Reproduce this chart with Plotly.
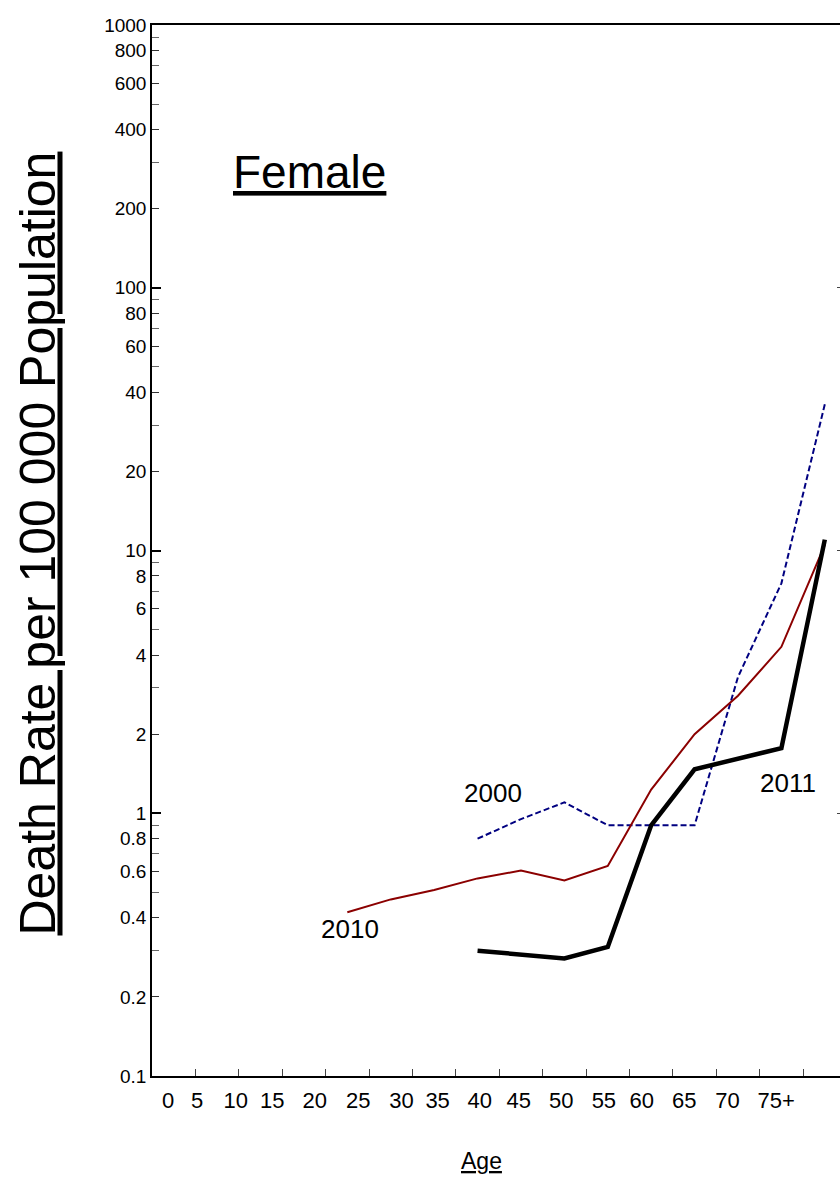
import plotly.graph_objects as go

# ---- data ----
ages = ["0", "5", "10", "15", "20", "25", "30", "35", "40", "45",
        "50", "55", "60", "65", "70", "75+"]

ages_2000 = ["35", "40", "45", "50", "55", "60", "65", "70", "75+"]
rate_2000 = [0.80, 0.95, 1.10, 0.90, 0.90, 0.90, 3.3, 7.5, 36.0]

ages_2010 = ["20", "25", "30", "35", "40", "45", "50", "55", "60", "65", "70", "75+"]
rate_2010 = [0.42, 0.47, 0.51, 0.565, 0.605, 0.555, 0.63, 1.23, 2.0, 2.8, 4.3, 10.5]

ages_2011 = ["35", "40", "45", "50", "55", "60", "65", "70", "75+"]
rate_2011 = [0.30, 0.29, 0.28, 0.31, 0.90, 1.47, 1.61, 1.77, 11.0]

# printed x labels are offset from the category centres in the original
age_label_pos = [-0.13, 0.54, 1.43, 2.27, 3.25, 4.25, 5.25, 6.08, 7.05, 7.95,
                 8.93, 9.91, 10.78, 11.76, 12.76, 13.88]

y_labeled = [0.1, 0.2, 0.4, 0.6, 0.8, 1, 2, 4, 6, 8, 10, 20, 40, 60, 80,
             100, 200, 400, 600, 800, 1000]
y_labels = ["0.1", "0.2", "0.4", "0.6", "0.8", "1", "2", "4", "6", "8", "10",
            "20", "40", "60", "80", "100", "200", "400", "600", "800", "1000"]
y_minor = [0.3, 0.5, 0.7, 0.9, 3, 5, 7, 9, 30, 50, 70, 90, 300, 500, 700, 900]
y_decades = [0.1, 1, 10, 100, 1000]

FONT = "Arial, Liberation Sans, sans-serif"

W, H = 840, 1178
L, R, T, B = 152, 0, 25, 102
XR = [-0.5, 15.35]
YR = [-1, 3]

fig = go.Figure()
fig.add_trace(go.Scatter(x=ages_2000, y=rate_2000, mode="lines",
                         line=dict(color="#000080", width=2, dash="6px,3px"),
                         showlegend=False))
fig.add_trace(go.Scatter(x=ages_2010, y=rate_2010, mode="lines",
                         line=dict(color="#8B0000", width=2),
                         showlegend=False))
fig.add_trace(go.Scatter(x=ages_2011, y=rate_2011, mode="lines",
                         line=dict(color="black", width=4.5),
                         showlegend=False))
# empty traces so the overlay axes (labels / extra ticks) get drawn
for xa, ya in (("x2", "y"), ("x", "y2"), ("x", "y3")):
    fig.add_trace(go.Scatter(x=[None], y=[None], xaxis=xa, yaxis=ya,
                             mode="lines", showlegend=False, hoverinfo="skip"))


def px(xp):
    return (xp - L) / (W - L - R)


def py(yp):
    return (H - B - yp) / (H - B - T)


annotations = [
    dict(text="2000", x=px(492.5), y=py(792.5)),
    dict(text="2010", x=px(350), y=py(929)),
    dict(text="2011", x=px(788), y=py(782.5)),
]
for a in annotations:
    a.update(xref="paper", yref="paper", showarrow=False, xanchor="center",
             yanchor="middle", font=dict(family=FONT, size=26, color="black"))

annotations += [
    dict(text="<u>Female</u>", x=px(309), y=py(172), xref="paper", yref="paper",
         showarrow=False, xanchor="center", yanchor="middle",
         font=dict(family=FONT, size=46, color="black")),
    dict(text="<u>Age</u>", x=px(481.7), y=py(1161), xref="paper", yref="paper",
         showarrow=False, xanchor="center", yanchor="middle",
         font=dict(family=FONT, size=23, color="black")),
    dict(text="<u>Death Rate per 100 000 Population</u>", x=px(37), y=py(543.5),
         xref="paper", yref="paper", showarrow=False, xanchor="center",
         yanchor="middle", textangle=-90,
         font=dict(family=FONT, size=50, color="black")),
]

fig.update_layout(
    width=W, height=H,
    margin=dict(l=L, r=R, t=T, b=B, pad=0),
    plot_bgcolor="white", paper_bgcolor="white",
    font=dict(family=FONT, color="black"),
    showlegend=False,
    annotations=annotations,
    xaxis=dict(type="category", categoryorder="array", categoryarray=ages,
               range=XR, tickson="boundaries", ticks="inside", ticklen=7,
               tickwidth=1, tickcolor="#444", showticklabels=False,
               showline=True, linecolor="black", linewidth=1.5, mirror=True,
               showgrid=False, zeroline=False),
    xaxis2=dict(overlaying="x", anchor="y", side="bottom", type="linear", range=XR,
                tickmode="array", tickvals=age_label_pos, ticktext=ages,
                ticks="", showline=False, showgrid=False, zeroline=False,
                ticklabelstandoff=9, tickfont=dict(family=FONT, size=22)),
    yaxis=dict(type="log", range=YR, tickmode="array", tickvals=y_labeled,
               ticktext=y_labels, ticks="inside", ticklen=7, tickwidth=1,
               tickcolor="#333", showline=True, linecolor="black", linewidth=1.5,
               showgrid=False, zeroline=False,
               tickfont=dict(family=FONT, size=19),
               minor=dict(tickmode="array", tickvals=y_minor, ticks="inside",
                          ticklen=7, tickcolor="#666", tickwidth=1,
                          showgrid=False)),
    yaxis2=dict(overlaying="y", anchor="x", side="left", type="log", range=YR,
                tickmode="array", tickvals=y_decades, ticks="inside", ticklen=9,
                tickwidth=1.5, tickcolor="black", showticklabels=False,
                showline=False, showgrid=False, zeroline=False),
    yaxis3=dict(overlaying="y", anchor="x", side="right", type="log", range=YR,
                tickmode="array", tickvals=y_decades, ticks="inside", ticklen=3,
                tickwidth=1, tickcolor="#444", showticklabels=False,
                showline=False, showgrid=False, zeroline=False),
)

fig.write_html("out.html", config={"displayModeBar": False},
               post_script="document.body.style.margin='0px';"
                           "document.body.style.overflow='hidden';")
